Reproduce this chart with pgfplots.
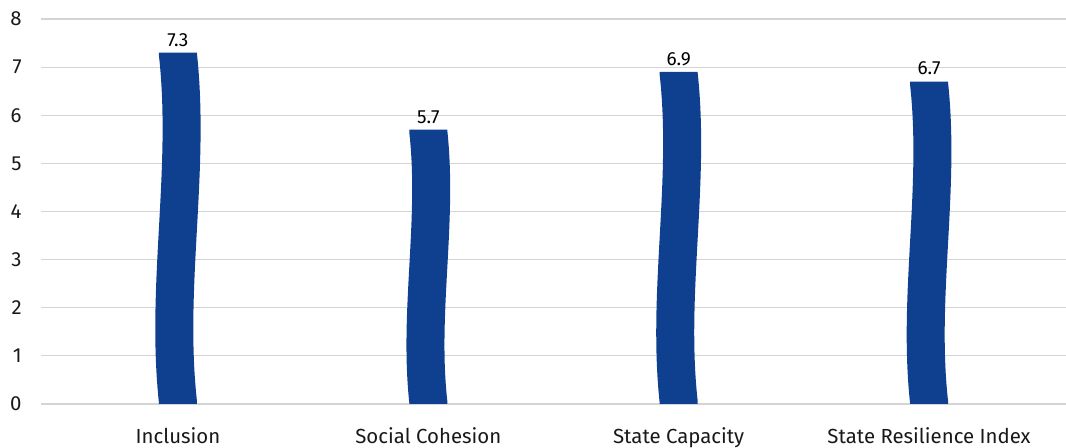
\documentclass[border=0pt]{standalone}
\usepackage{fontspec}
\setmainfont{Fira Sans}
\usepackage{pgfplots}
\pgfplotsset{compat=1.18}
\usetikzlibrary{decorations}
\definecolor{barblue}{HTML}{0F3F8F}
\definecolor{gridgray}{HTML}{D4D4D4}
\pgfdeclaredecoration{wavebar}{initial}{
  \state{initial}[width=\pgfdecoratedpathlength-1sp, next state=final]{
    \pgfpathlineto{\pgfpointorigin}
    \pgfpathlineto{\pgfpoint{1pt}{0pt}}
    \pgfpathcurveto{\pgfpoint{1pt+(\pgfdecoratedpathlength-2pt)/3}{0.036*\pgfdecoratedpathlength}}
                   {\pgfpoint{1pt+2*(\pgfdecoratedpathlength-2pt)/3}{-0.036*\pgfdecoratedpathlength}}
                   {\pgfpoint{\pgfdecoratedpathlength-1pt}{0pt}}
  }
  \state{final}{\pgfpathlineto{\pgfpointdecoratedpathlast}}
}
\pgfplotsset{wavy/.style={ycomb, mark=none, draw=barblue, line width=19pt,
     decorate, decoration={wavebar}}}
\begin{document}
\begin{tikzpicture}
\useasboundingbox (-20.5pt,-22pt) rectangle (512.5pt,202pt);
\begin{axis}[
  scale only axis,
  width=512.5pt, height=192.5pt,
  xmin=-0.547, xmax=3.547,
  ymin=0, ymax=8,
  ytick={0,1,...,8},
  xtick={0,1,2,3},
  xticklabels={Inclusion, Social Cohesion, State Capacity, State Resilience Index},
  axis line style={draw=none},
  major tick length=0pt,
  ymajorgrids,
  grid style={gridgray, line width=0.6pt},
  /pgf/number format/assume math mode=true,
  tick label style={font=\fontsize{10.2}{12}\selectfont, text=black!90},
  yticklabel style={anchor=east, inner sep=0pt, xshift=-9.5pt},
  xticklabel style={anchor=north, inner sep=0pt, yshift=-11.5pt},
]
\addplot[wavy] coordinates {(0,7.3)};
\addplot[wavy] coordinates {(1,5.7)};
\addplot[wavy] coordinates {(2,6.9)};
\addplot[wavy] coordinates {(3,6.7)};
\addplot[draw=none, mark=none,
     nodes near coords={\pgfmathprintnumber[fixed,fixed zerofill,precision=1,assume math mode=true]{\pgfplotspointmeta}},
     every node near coord/.append style={font=\fontsize{9.5}{11}\selectfont, text=black, anchor=south, inner sep=0pt, yshift=3pt}]
  coordinates {(0,7.3) (1,5.7) (2,6.9) (3,6.7)};
\end{axis}
\end{tikzpicture}
\end{document}
